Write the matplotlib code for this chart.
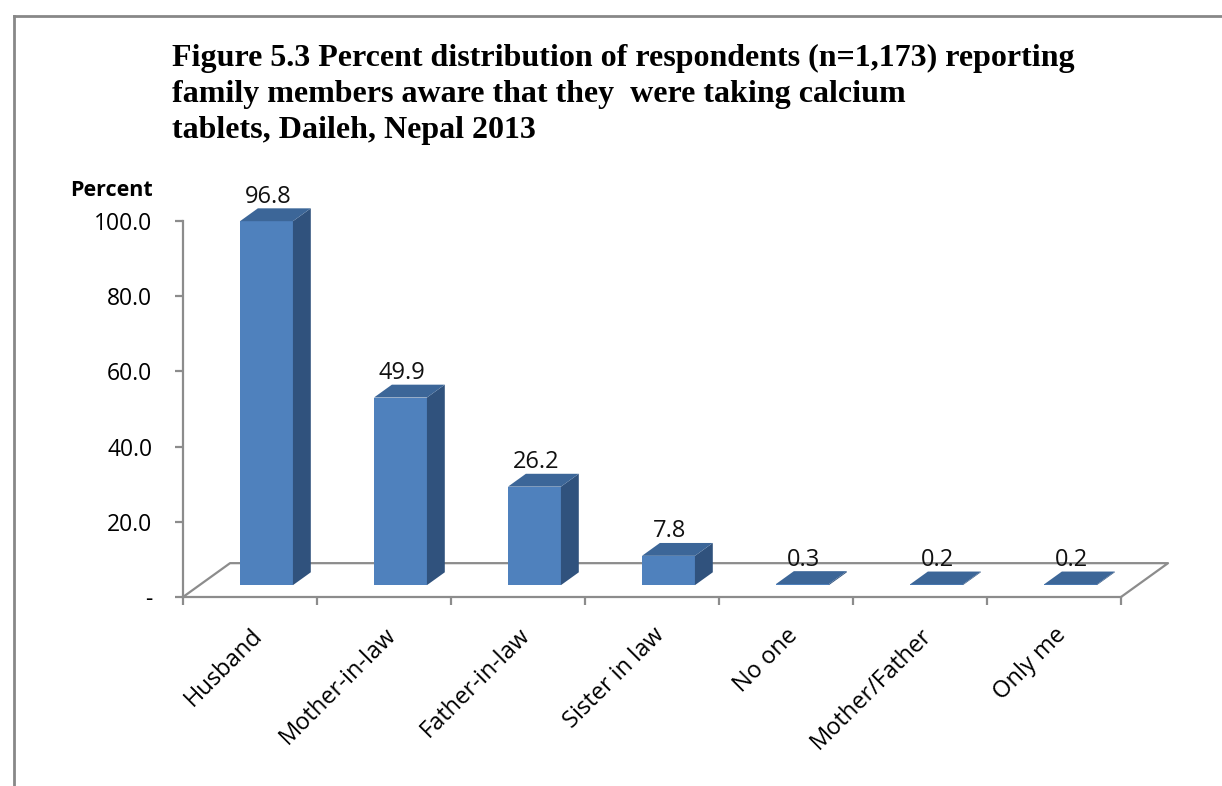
import matplotlib

matplotlib.use("Agg")
import matplotlib.pyplot as plt
from matplotlib.lines import Line2D
from matplotlib.patches import Polygon

categories = [
    "Husband",
    "Mother-in-law",
    "Father-in-law",
    "Sister in law",
    "No one",
    "Mother/Father",
    "Only me",
]
percent = [96.8, 49.9, 26.2, 7.8, 0.3, 0.2, 0.2]
value_labels = ["96.8", "49.9", "26.2", "7.8", "0.3", "0.2", "0.2"]
ytick_values = [0, 20, 40, 60, 80, 100]
ytick_labels = ["-", "20.0", "40.0", "60.0", "80.0", "100.0"]

title = (
    "Figure 5.3 Percent distribution of respondents (n=1,173) reporting\n"
    "family members aware that they  were taking calcium\n"
    "tablets, Daileh, Nepal 2013"
)

FRONT = "#4F81BD"
TOP = "#3C6698"
SIDE = "#30527D"
GRAY = "#8C8C8C"

# depth of the 3-D floor in data units (x: categories, y: percent)
DX, DY = 0.351, 9.0
F0 = 0.35   # bar front face sits this far back into the floor
FD = 0.38   # bar depth as fraction of floor depth
BAR_W = 0.395

label_font = "Open Sans"

fig = plt.figure(figsize=(12.22, 7.86), dpi=100)
ax = fig.add_axes([183 / 1222, 1 - 597 / 786, (1121 - 183) / 1222, (597 - 221) / 786])

n = len(categories)
ax.set_xlim(-0.5, n - 0.5)
ax.set_ylim(0, 100)

# floor
floor_x = [-0.5, -0.5 + DX, n - 0.5 + DX, n - 0.5]
floor_y = [0, DY, DY, 0]
ax.plot(floor_x, floor_y, color=GRAY, lw=1.6, clip_on=False, zorder=1)

# bars
ox, oy = F0 * DX, F0 * DY
ddx, ddy = FD * DX, FD * DY
xs = [i + ox for i in range(n)]
ax.bar(xs, percent, width=BAR_W, bottom=oy, color=FRONT, clip_on=False, zorder=3)
for x, v, lab in zip(xs, percent, value_labels):
    xl, xr = x - BAR_W / 2, x + BAR_W / 2
    top = v + oy
    ax.add_patch(
        Polygon(
            [(xr, oy), (xr + ddx, oy + ddy), (xr + ddx, top + ddy), (xr, top)],
            closed=True, color=SIDE, clip_on=False, zorder=3, lw=0,
        )
    )
    ax.add_patch(
        Polygon(
            [(xl, top), (xr, top), (xr + ddx, top + ddy), (xl + ddx, top + ddy)],
            closed=True, color=TOP, clip_on=False, zorder=3, lw=0,
        )
    )
    ax.annotate(
        lab, (x + 0.01, top + ddy), xytext=(0, 4), textcoords="offset points",
        ha="center", va="baseline", fontsize=17, family=label_font,
        color="#111111", zorder=5, annotation_clip=False,
    )

# axes styling
for side in ["top", "right"]:
    ax.spines[side].set_visible(False)
for side in ["left", "bottom"]:
    ax.spines[side].set_color(GRAY)
    ax.spines[side].set_linewidth(1.6)
    ax.spines[side].set_zorder(2)

ax.set_yticks(ytick_values)
ax.set_yticklabels(ytick_labels, family=label_font, fontsize=16.5)
ax.tick_params(axis="y", length=6, width=1.6, color=GRAY, pad=16)

ax.set_xticks([i - 0.5 for i in range(n + 1)])
ax.set_xticklabels([])
ax.tick_params(axis="x", which="major", length=6, width=1.6, color=GRAY)
ax.set_xticks(range(n), minor=True)
ax.set_xticklabels(
    categories, minor=True, rotation=45, ha="right", rotation_mode="anchor",
    family=label_font, fontsize=17,
)
ax.tick_params(axis="x", which="minor", length=0, pad=19)

fig.text(153 / 1222, 1 - 190 / 786, "Percent", ha="right", va="center",
         family=label_font, fontweight="bold", fontsize=15.5)

fig.text(172 / 1222, 1 - 44 / 786, title, ha="left", va="top",
         family="Liberation Serif", fontweight="bold", fontsize=23,
         linespacing=1.32)

# frame lines of the original picture
fig.add_artist(Line2D([14 / 1222, 1], [1 - 16 / 786] * 2, color="#888888", lw=2))
fig.add_artist(Line2D([14 / 1222] * 2, [0, 1 - 16 / 786], color="#888888", lw=2))

fig.savefig("out.png", dpi=100)
